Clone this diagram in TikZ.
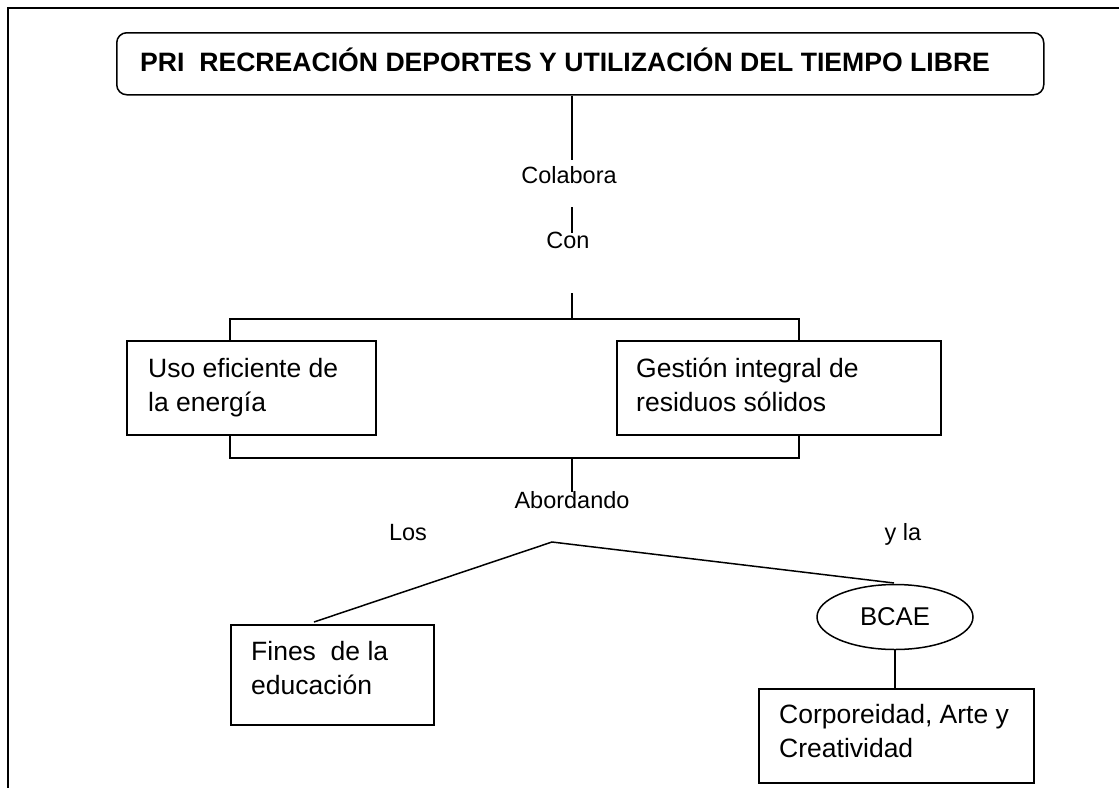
\documentclass[tikz,border=0pt]{standalone}
\usepackage{fontspec}
\setmainfont{Liberation Sans}
\usetikzlibrary{shapes.geometric}
\begin{document}
\begin{tikzpicture}[x=1pt,y=-1pt,
  ln/.style={line width=1.5pt, black},
  boxnode/.style={draw, line width=1.5pt, rectangle, inner sep=0pt, anchor=north west},
  boxtxt/.style={anchor=base west, inner sep=0pt, font=\fontsize{26.5}{34}\selectfont},
  lbl/.style={anchor=base, inner sep=0pt, font=\fontsize{23.5}{28}\selectfont}]
\useasboundingbox (0,0) rectangle (1119,788);
% frame
\coordinate (fr1) at (1119,8);
\coordinate (fr2) at (8,8);
\coordinate (fr3) at (8,788);
\draw[line width=2pt] (fr1) -- (fr2) -- (fr3);
% title
\node[boxnode, rounded corners=10pt, minimum width=927pt, minimum height=62pt] (title) at (116,32) {};
\node[anchor=base west, inner sep=0pt, font=\bfseries\fontsize{26.6}{32}\selectfont] (titletxt) at (140,71) {PRI\ \ RECREACIÓN DEPORTES Y UTILIZACIÓN DEL TIEMPO LIBRE};
% labels
\node[lbl] (colabora) at (569,183) {Colabora};
\node[lbl] (con) at (568,248) {Con};
\node[lbl] (abord) at (572,508) {Abordando};
\node[lbl] (los) at (408,540) {Los};
\node[lbl] (yla) at (903,540) {y la};
% boxes
\node[boxnode, minimum width=249pt, minimum height=94pt] (uso) at (126,340) {};
\node[boxtxt] (usotxt) at (148,377) {\parbox[t]{300pt}{Uso eficiente de\\la energía}};
\node[boxnode, minimum width=324pt, minimum height=94pt] (gestion) at (616,340) {};
\node[boxtxt] (gestiontxt) at (636,377) {\parbox[t]{300pt}{Gestión integral de\\residuos sólidos}};
\node[boxnode, minimum width=203pt, minimum height=100pt] (fines) at (230,624) {};
\node[boxtxt] (finestxt) at (251,660) {\parbox[t]{300pt}{Fines\ \ de la\\educación}};
\node[boxnode, minimum width=275pt, minimum height=94pt] (corp) at (758,688) {};
\node[boxtxt] (corptxt) at (779,723) {\parbox[t]{300pt}{Corporeidad, Arte y\\Creatividad}};
\node[draw, ellipse, line width=1.5pt, minimum width=156pt, minimum height=65pt, inner sep=0pt, font=\fontsize{25.7}{30}\selectfont] (bcae) at (895,617) {BCAE};
% connectors
\coordinate (c1) at (572,160);
\coordinate (c2) at (572,207);
\coordinate (c3) at (572,233);
\coordinate (c4) at (572,293);
\coordinate (c5) at (572,319);
\coordinate (ul) at (230,319);
\coordinate (ur) at (799,319);
\coordinate (ll) at (230,458);
\coordinate (lr) at (799,458);
\coordinate (c6) at (572,458);
\coordinate (c7) at (572,492);
\coordinate (ap) at (552,542);
\coordinate (fe) at (314,622);
\coordinate (be) at (894,583);
\draw[ln] (title.south -| c1) -- (c1);
\draw[ln] (c2) -- (c3);
\draw[ln] (c4) -- (c5);
\draw[ln] (ul |- uso.north) -- (ul) -- (ur) -- (ur |- gestion.north);
\draw[ln] (ll |- uso.south) -- (ll) -- (lr) -- (lr |- gestion.south);
\draw[ln] (c6) -- (c7);
\draw[ln] (fe) -- (ap) -- (be);
\draw[ln] (bcae.south) -- (bcae.south |- corp.north);
\end{tikzpicture}
\end{document}
